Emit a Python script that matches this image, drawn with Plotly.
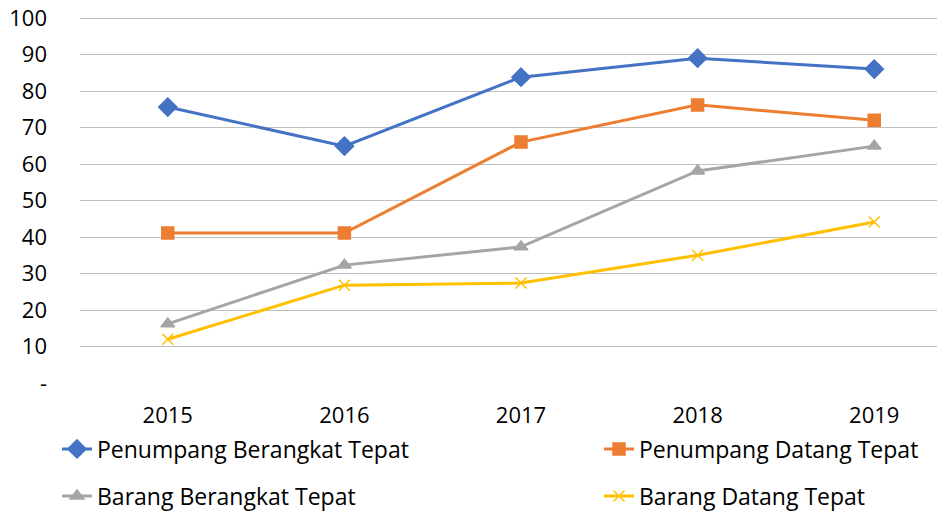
import plotly.graph_objects as go

years = ["2015", "2016", "2017", "2018", "2019"]
penumpang_berangkat = [75.6, 64.9, 83.8, 89.0, 86.0]
penumpang_datang = [41.1, 41.1, 66.0, 76.2, 72.0]
barang_berangkat = [16.2, 32.3, 37.3, 58.1, 64.9]
barang_datang = [12.0, 26.8, 27.4, 35.0, 44.1]
y_ticks = [0, 10, 20, 30, 40, 50, 60, 70, 80, 90, 100]
y_tick_text = ["-", "10", "20", "30", "40", "50", "60", "70", "80", "90", "100"]

FONT = "Open Sans"
OFF = 8  # page body offset
fig = go.Figure()
series = [
    ("Penumpang Berangkat Tepat", penumpang_berangkat, "#4472C4", "diamond", 14, "legend"),
    ("Penumpang Datang Tepat", penumpang_datang, "#ED7D31", "square", 12, "legend2"),
    ("Barang Berangkat Tepat", barang_berangkat, "#A5A5A5", "triangle-up", 12, "legend3"),
    ("Barang Datang Tepat", barang_datang, "#FFC000", "x-thin", 11, "legend4"),
]
for name, vals, col, sym, sz, lg in series:
    fig.add_trace(go.Scatter(
        x=list(range(len(years))), y=vals, name=name, mode="lines+markers",
        line=dict(color=col, width=3),
        marker=dict(symbol=sym, size=sz, color=col, line=dict(color=col, width=1.5)),
        legend=lg, showlegend=True, cliponaxis=False,
    ))

W, H = 945, 511

def leg(sx, sy):
    return dict(orientation="h", xref="container", yref="container",
                x=sx / W, y=1 - (sy - OFF) / H,
                xanchor="left", yanchor="middle", font=dict(size=23, family=FONT),
                bgcolor="rgba(0,0,0,0)")

fig.update_layout(
    width=W, height=H, showlegend=True,
    margin=dict(l=80 - OFF, r=0, t=8, b=H - (383 - OFF), autoexpand=False),
    plot_bgcolor="white", paper_bgcolor="white",
    font=dict(family=FONT, size=22, color="#000000"),
    xaxis=dict(tickvals=list(range(len(years))), ticktext=years, range=[-0.497, 4.446],
               showgrid=False, zeroline=False, showline=False, ticks="", ticklabelstandoff=17,
               ticklabeloverflow="allow"),
    yaxis=dict(range=[0, 100.55], tickvals=y_ticks, ticktext=y_tick_text, showgrid=True,
               gridcolor="#bfbfbf", gridwidth=1, zeroline=False, showline=False,
               ticks="", ticklabelstandoff=32, ticklabeloverflow="allow"),
    legend=leg(49, 449),
    legend2=leg(591, 449),
    legend3=leg(49, 496),
    legend4=leg(591, 496),
)
fig.write_html("out.html")
